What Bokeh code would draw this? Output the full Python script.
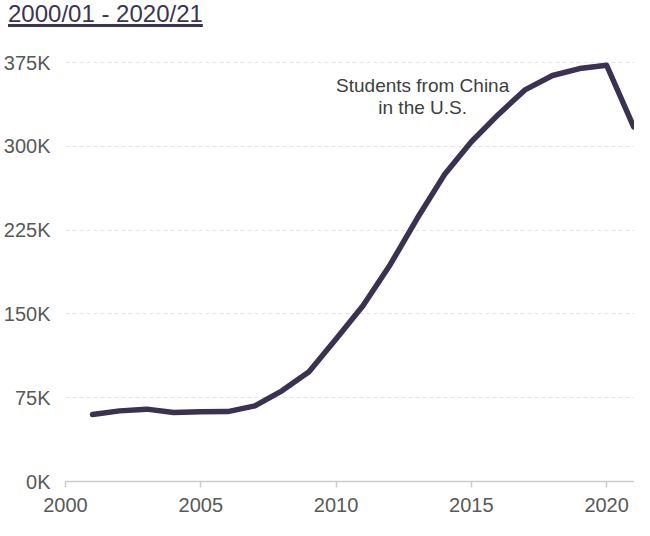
from bokeh.plotting import figure
from bokeh.models import Range1d, FixedTicker, ColumnDataSource, Div
from bokeh.layouts import column
from bokeh.embed import file_html
from bokeh.resources import INLINE
from bokeh.core.properties import value

# ---- data ----
years = list(range(2001, 2022))
students = [59939, 63211, 64757, 61765, 62523, 62582, 67723, 81127, 98235,
            127628, 157558, 194029, 235597, 274439, 304040, 328547, 350755,
            363341, 369548, 372532, 317299]
x_ticks = [2000, 2005, 2010, 2015, 2020]
y_ticks = [0, 75000, 150000, 225000, 300000, 375000]
y_tick_labels = ["0K", "75K", "150K", "225K", "300K", "375K"]
title_text = "2000/01 - 2020/21"
note_lines = ["Students from China", "in the U.S."]

# ---- styles ----
FONT = "Liberation Sans"
LINE_COLOR = "#3b3252"
TITLE_COLOR = "#3b3553"
LABEL_COLOR = "#595959"
NOTE_COLOR = "#404040"
AXIS_COLOR = "#cccccc"
GRID_COLOR = "#e3e3e3"

DIV_H = 30
FIG_W = 634
FIG_H = 520 - DIV_H
BORDER_LEFT = 64
AXIS_Y = 481                              # canvas px of the x axis
BORDER_BOTTOM = 520 - AXIS_Y
FRAME_H = FIG_H - BORDER_BOTTOM
PX_PER_UNIT = 419 / 375000                # vertical scale of the reference
X0, X1 = 2000, 2021.03
Y1 = FRAME_H / PX_PER_UNIT

title_div = Div(
    text=(f'<span style="font-family:\'{FONT}\';font-size:24px;color:{TITLE_COLOR};'
          f'text-decoration:underline;text-decoration-thickness:3px;'
          f'text-underline-offset:2px;line-height:1.2;white-space:nowrap;'
          f'padding-left:8px">{title_text}</span>'),
    width=FIG_W, height=DIV_H, margin=0)

p = figure(width=FIG_W, height=FIG_H, output_backend="svg", toolbar_location=None,
           x_range=Range1d(X0, X1), y_range=Range1d(0, Y1),
           min_border_left=BORDER_LEFT, min_border_right=0, min_border_top=0,
           min_border_bottom=BORDER_BOTTOM)
p.outline_line_color = None
p.background_fill_color = "white"
p.border_fill_color = "white"

# x axis
p.xaxis.ticker = FixedTicker(ticks=x_ticks)
p.xaxis.axis_line_color = AXIS_COLOR
p.xaxis.axis_line_width = 1.5
p.xaxis.major_tick_line_color = AXIS_COLOR
p.xaxis.major_tick_line_width = 1.5
p.xaxis.major_tick_out = 6
p.xaxis.major_tick_in = 0
p.xaxis.minor_tick_line_color = None
p.xaxis.major_label_text_font = FONT
p.xaxis.major_label_text_font_size = "20px"
p.xaxis.major_label_text_color = LABEL_COLOR
p.xaxis.major_label_standoff = 10

# y axis
p.yaxis.ticker = FixedTicker(ticks=y_ticks)
p.yaxis.major_label_overrides = {t: l for t, l in zip(y_ticks, y_tick_labels)}
p.yaxis.axis_line_color = None
p.yaxis.major_tick_line_color = None
p.yaxis.minor_tick_line_color = None
p.yaxis.major_label_text_font = FONT
p.yaxis.major_label_text_font_size = "20px"
p.yaxis.major_label_text_color = LABEL_COLOR
p.yaxis.major_label_standoff = 9

# grid
p.xgrid.visible = False
p.ygrid.grid_line_color = GRID_COLOR
p.ygrid.grid_line_dash = "4 3"
p.ygrid.grid_line_width = 1

# data line
src = ColumnDataSource(dict(year=years, students=students))
p.line("year", "students", source=src, line_color=LINE_COLOR, line_width=5.5,
       line_join="round", line_cap="round")

# annotation text (lines centred at canvas y 85 and 107)
note_x = 2013.2
note_src = ColumnDataSource(dict(
    x=[note_x, note_x],
    y=[(AXIS_Y - 85) / PX_PER_UNIT, (AXIS_Y - 107) / PX_PER_UNIT],
    t=note_lines))
p.text("x", "y", text="t", source=note_src, text_font=value(FONT),
       text_font_size="19px", text_color=NOTE_COLOR, text_align="center",
       text_baseline="middle")

layout = column(title_div, p, spacing=0)
open("out.html", "w").write(file_html(layout, INLINE))
